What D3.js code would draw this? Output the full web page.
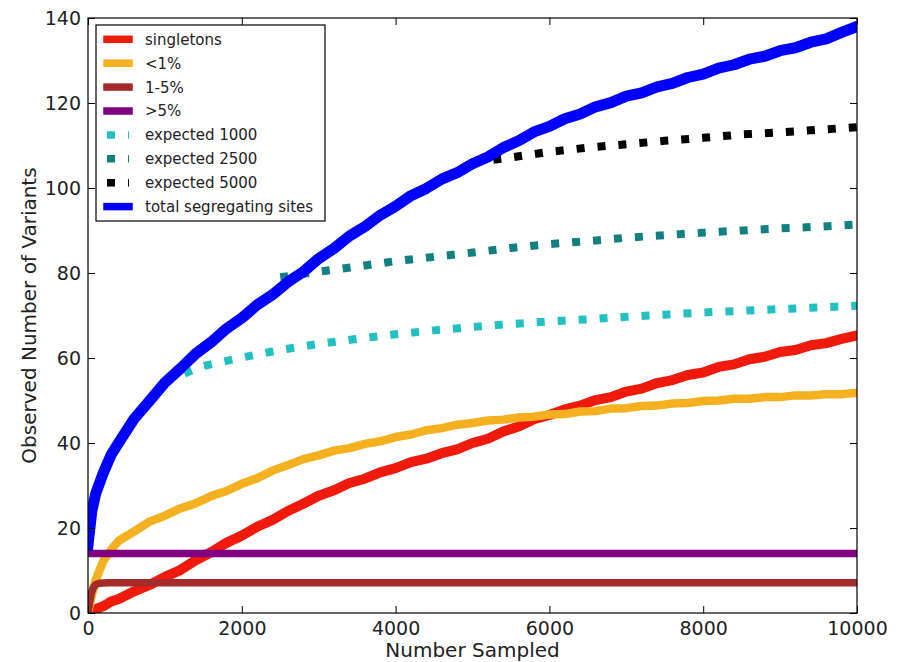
<!DOCTYPE html>
<html>
<head>
<meta charset="utf-8">
<script src="https://cdn.jsdelivr.net/npm/d3@7/dist/d3.min.js"></script>
<style>
body { margin: 0; background: #ffffff; }
text { font-family: "DejaVu Sans", sans-serif; fill: #222; }
</style>
</head>
<body>
<div id="chart"></div>
<script>
//Sample sizes used for the observed (noisy) curves
var sampled = [0, 50, 100, 200, 300, 400, 600, 800, 1000, 1200, 1400, 1600, 1800, 2000,
    2200, 2400, 2600, 2800, 3000, 3200, 3400, 3600, 3800, 4000,
    4200, 4400, 4600, 4800, 5000, 5200, 5400, 5600, 5800, 6000,
    6200, 6400, 6600, 6800, 7000, 7200, 7400, 7600, 7800, 8000,
    8200, 8400, 8600, 8800, 9000, 9200, 9400, 9600, 9800, 10000];

var singletons = [0.0, 0.4, 0.9, 1.6, 2.7, 3.3, 5.1, 6.6, 8.5, 10.1, 12.4, 14.3, 16.5, 18.2,
    20.3, 21.9, 24.0, 25.7, 27.6, 28.9, 30.6, 31.6, 33.1, 34.1,
    35.5, 36.3, 37.6, 38.5, 40.0, 41.0, 42.7, 43.9, 45.6, 46.6,
    47.9, 48.8, 50.1, 50.8, 52.1, 52.8, 54.1, 54.8, 56.0, 56.6,
    57.9, 58.5, 59.7, 60.3, 61.4, 61.9, 63.0, 63.5, 64.5, 65.3];

var lessOne = [0.0, 4.2, 7.8, 12.3, 14.9, 17.0, 19.2, 21.5, 22.9, 24.6, 25.8, 27.5, 28.7, 30.4,
    31.7, 33.5, 34.8, 36.2, 37.1, 38.2, 38.8, 39.8, 40.4, 41.4,
    42.0, 43.0, 43.5, 44.3, 44.7, 45.3, 45.5, 46.0, 46.2, 46.7,
    46.8, 47.4, 47.5, 48.1, 48.2, 48.7, 48.8, 49.3, 49.4, 49.9,
    50.0, 50.4, 50.4, 50.8, 50.8, 51.2, 51.2, 51.5, 51.5, 51.8];

var totalSites = [16.0, 24.0, 28.1, 33.0, 37.2, 40.1, 45.7, 49.9, 54.2, 57.5, 61.0, 63.7, 66.9, 69.4,
    72.5, 74.9, 77.9, 80.3, 83.4, 85.8, 88.7, 90.9, 93.6, 95.7,
    98.2, 99.9, 102.1, 103.6, 105.7, 107.3, 109.5, 111.1, 113.2, 114.5,
    116.3, 117.4, 119.1, 120.1, 121.6, 122.4, 123.8, 124.6, 126.0, 126.8,
    128.2, 129.0, 130.3, 131.0, 132.3, 133.0, 134.3, 135.1, 136.6, 138.0];

//Flat frequency classes
var oneFiveX = [0, 20, 40, 70, 100, 150, 250, 10000];
var oneFive = [0, 2.5, 4.5, 6.0, 6.7, 7.0, 7.1, 7.1];
var overFiveX = [0, 10000];
var overFive = [14.0, 14.0];

//Expected curves, starting from the observed total at 1000 / 2500 / 5000
var exp1000X = [1000, 1500, 2000, 2500, 3000, 3500, 4000, 4500, 5000, 5500, 6000, 6500, 7000, 7500, 8000, 8500, 9000, 9500, 10000];
var exp1000 = [54.5, 58.1, 60.1, 61.9, 63.3, 64.5, 65.6, 66.5, 67.3, 68.0, 68.6, 69.1, 69.7, 70.2, 70.7, 71.1, 71.5, 71.9, 72.3];
var exp2500X = [2500, 3000, 3500, 4000, 4500, 5000, 5500, 6000, 6500, 7000, 7500, 8000, 8500, 9000, 9500, 10000];
var exp2500 = [79.0, 80.3, 81.5, 82.8, 83.8, 84.8, 85.9, 86.8, 87.5, 88.3, 88.9, 89.5, 90.0, 90.5, 90.9, 91.4];
var exp5000X = [5000, 5500, 6000, 6500, 7000, 7500, 8000, 8500, 9000, 9500, 10000];
var exp5000 = [106.0, 107.2, 108.5, 109.5, 110.3, 111.1, 111.8, 112.6, 113.1, 113.7, 114.3];

var xTicks = [0, 2000, 4000, 6000, 8000, 10000];
var yTicks = [0, 20, 40, 60, 80, 100, 120, 140];

//Series in drawing order (same order as legend)
var series = [
    {name: "singletons", xs: sampled, ys: singletons, color: "#f01a0c", width: 10, dash: null},
    {name: "<1%", xs: sampled, ys: lessOne, color: "#f4b01e", width: 8.5, dash: null},
    {name: "1-5%", xs: oneFiveX, ys: oneFive, color: "#a52a2a", width: 7.5, dash: null},
    {name: ">5%", xs: overFiveX, ys: overFive, color: "#800080", width: 7.5, dash: null},
    {name: "expected 1000", xs: exp1000X, ys: exp1000, color: "#22c0c0", width: 8, dash: "8,13"},
    {name: "expected 2500", xs: exp2500X, ys: exp2500, color: "#128080", width: 8, dash: "8,13"},
    {name: "expected 5000", xs: exp5000X, ys: exp5000, color: "#000000", width: 8, dash: "8,13"},
    {name: "total segregating sites", xs: sampled, ys: totalSites, color: "#0000ff", width: 11, dash: null}
];

//Plot area (named so they don't clash with window.top)
var W = 902, H = 662;
var mLeft = 88, mRight = 857, mTop = 18, mBottom = 613;

var xscale = d3.scaleLinear().domain([0, 10000]).range([mLeft, mRight]);
var yscale = d3.scaleLinear().domain([0, 140]).range([mBottom, mTop]);

var svg = d3.select("#chart")
            .append("svg")
            .attr("width", W)
            .attr("height", H);

svg.append("rect").attr("width", W).attr("height", H).attr("fill", "#ffffff");

svg.append("clipPath")
    .attr("id", "plotclip")
    .append("rect")
    .attr("x", mLeft).attr("y", mTop)
    .attr("width", mRight - mLeft).attr("height", mBottom - mTop);

var line = d3.line()
            .x(d => xscale(d[0]))
            .y(d => yscale(d[1]));

//Draw every curve
var plot = svg.append("g").attr("clip-path", "url(#plotclip)");
series.forEach(function(s)
{
    var pts = s.xs.map((x, i) => [x, s.ys[i]]);
    plot.append("path")
        .attr("d", line(pts))
        .attr("fill", "none")
        .attr("stroke", s.color)
        .attr("stroke-width", s.width)
        .attr("stroke-linejoin", "round")
        .attr("stroke-linecap", s.dash ? "butt" : "square")
        .attr("stroke-dasharray", s.dash);
});

//Axes with inward ticks on all four sides
svg.append("g")
    .attr("transform", "translate(0," + mBottom + ")")
    .call(d3.axisBottom(xscale).tickValues(xTicks).tickFormat(d3.format("d")).tickSize(-7).tickSizeOuter(0).tickPadding(9));
svg.append("g")
    .attr("transform", "translate(" + mLeft + ",0)")
    .call(d3.axisLeft(yscale).tickValues(yTicks).tickSize(-7).tickSizeOuter(0).tickPadding(7));
svg.append("g")
    .attr("transform", "translate(0," + mTop + ")")
    .call(d3.axisTop(xscale).tickValues(xTicks).tickFormat("").tickSize(-7).tickSizeOuter(0));
svg.append("g")
    .attr("transform", "translate(" + mRight + ",0)")
    .call(d3.axisRight(yscale).tickValues(yTicks).tickFormat("").tickSize(-7).tickSizeOuter(0));

svg.selectAll(".domain").remove();
svg.selectAll(".tick line").attr("stroke", "#000");
svg.selectAll(".tick text")
    .style("font-size", "19px")
    .style("font-family", "DejaVu Sans, sans-serif")
    .attr("fill", "#222");

//Frame
svg.append("rect")
    .attr("x", mLeft).attr("y", mTop)
    .attr("width", mRight - mLeft).attr("height", mBottom - mTop)
    .attr("fill", "none")
    .attr("stroke", "#000")
    .attr("stroke-width", 1.2);

//Axis titles
svg.append("text")
    .attr("x", (mLeft + mRight) / 2)
    .attr("y", 657)
    .attr("text-anchor", "middle")
    .style("font-size", "20px")
    .text("Number Sampled");

svg.append("text")
    .attr("transform", "translate(36," + ((mTop + mBottom) / 2) + ") rotate(-90)")
    .attr("text-anchor", "middle")
    .style("font-size", "20px")
    .text("Observed Number of Variants");

//Legend
var legend = svg.append("g");
legend.append("rect")
    .attr("x", 96).attr("y", 25)
    .attr("width", 229).attr("height", 196)
    .attr("fill", "#ffffff")
    .attr("stroke", "#000")
    .attr("stroke-width", 1.2);

series.forEach(function(s, i)
{
    var yy = 39.3 + i * 23.9;
    legend.append("line")
        .attr("x1", 107).attr("x2", 129)
        .attr("y1", yy).attr("y2", yy)
        .attr("stroke", s.color)
        .attr("stroke-width", 7.5)
        .attr("stroke-linecap", s.dash ? "butt" : "square")
        .attr("stroke-dasharray", s.dash);
    legend.append("text")
        .attr("x", 145)
        .attr("y", yy)
        .attr("dy", "0.36em")
        .style("font-size", "15px")
        .text(s.name);
});
</script>
</body>
</html>
